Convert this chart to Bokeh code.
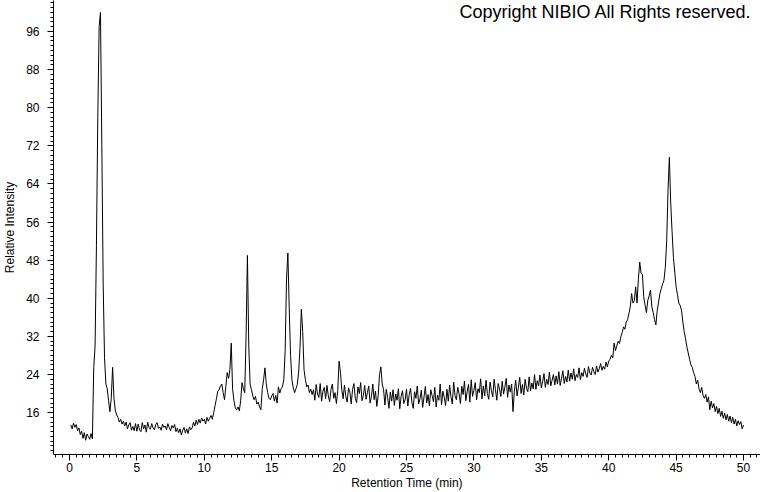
from bokeh.plotting import figure
from bokeh.models import FixedTicker, Range1d, Label
from bokeh.embed import file_html
from bokeh.resources import INLINE

# Retention time grid (min) and relative intensity
retention_time = [round(0.1 * i, 1) for i in range(1, 501)]
intensity = [
    # 0.1 - 1.0
    13.4, 12.6, 13.8, 12.9, 13.5, 12.2, 12.8, 11.4, 12.1, 10.6,
    # 1.1 - 2.0
    11.8, 10.2, 11.5, 11.0, 10.4, 11.6, 10.5, 25.5, 30.0, 51.0,
    # 2.1 - 3.0
    78.0, 97.0, 100.0, 72.0, 43.0, 27.5, 22.0, 21.0, 18.5, 16.2,
    # 3.1 - 4.0
    19.0, 25.5, 19.0, 16.5, 15.5, 15.0, 14.0, 14.6, 13.6, 14.2,
    # 4.1 - 5.0
    13.2, 14.0, 12.6, 13.4, 13.9, 12.3, 13.1, 12.2, 13.7, 12.1,
    # 5.1 - 6.0
    13.6, 12.4, 12.0, 13.9, 12.6, 13.4, 11.9, 14.0, 12.9, 12.5,
    # 6.1 - 7.0
    13.7, 12.8, 12.4, 13.5, 13.9, 12.7, 13.0, 12.3, 13.6, 12.9,
    # 7.1 - 8.0
    13.2, 12.4, 13.7, 12.9, 12.2, 13.3, 12.8, 13.5, 12.0, 12.7,
    # 8.1 - 9.0
    11.8, 12.6, 11.3, 12.3, 12.9, 11.7, 12.6, 11.6, 13.0, 12.4,
    # 9.1 - 10.0
    12.8, 14.0, 13.2, 14.4, 13.5, 14.6, 13.8, 14.9, 14.2, 14.6,
    # 10.1 - 11.0
    13.6, 15.0, 14.2, 14.8, 15.4, 14.6, 16.0, 17.5, 18.9, 20.5,
    # 11.1 - 12.0
    20.8, 21.6, 22.0, 20.2, 18.7, 21.5, 24.4, 23.2, 25.0, 30.6,
    # 12.1 - 13.0
    21.0, 18.5, 17.0, 16.6, 17.2, 16.4, 18.5, 22.3, 21.0, 20.2,
    # 13.1 - 14.0
    32.0, 49.0, 30.0, 22.0, 20.8, 19.5, 18.7, 19.4, 17.8, 18.2,
    # 14.1 - 15.0
    17.2, 16.6, 21.0, 22.9, 25.4, 22.0, 20.2, 19.0, 18.7, 19.5,
    # 15.1 - 16.0
    20.0, 18.4, 19.6, 18.0, 21.4, 20.1, 21.0, 21.4, 23.0, 29.0,
    # 16.1 - 17.0
    44.0, 49.5, 38.0, 28.0, 22.9, 21.2, 20.2, 21.0, 21.9, 24.5,
    # 17.1 - 18.0
    29.5, 37.7, 33.0, 25.0, 22.9, 21.4, 21.8, 20.2, 20.9, 19.8,
    # 18.1 - 19.0
    20.8, 18.6, 21.9, 19.9, 19.2, 22.1, 18.4, 20.5, 21.3, 18.9,
    # 19.1 - 20.0
    21.7, 19.5, 18.3, 20.9, 22.0, 19.0, 20.2, 17.9, 20.6, 26.8,
    # 20.1 - 21.0
    24.5, 20.8, 18.9, 21.8, 19.4, 18.2, 21.2, 20.3, 17.8, 20.9,
    # 21.1 - 22.0
    22.1, 19.0, 18.1, 21.4, 20.0, 22.3, 18.5, 19.6, 21.7, 18.8,
    # 22.1 - 23.0
    20.2, 21.6, 18.0, 19.4, 22.0, 18.7, 20.5, 17.3, 19.6, 24.0,
    # 23.1 - 24.0
    25.6, 22.0, 20.8, 17.6, 20.9, 19.2, 16.9, 20.3, 18.4, 20.8,
    # 24.1 - 25.0
    17.5, 19.9, 18.6, 21.0, 16.8, 19.4, 20.6, 17.9, 18.7, 20.9,
    # 25.1 - 26.0
    17.4, 19.8, 21.1, 18.2, 16.9, 20.4, 19.0, 21.6, 17.8, 18.9,
    # 26.1 - 27.0
    20.7, 17.1, 19.3, 21.5, 18.0, 19.8, 17.4, 20.8, 19.6, 18.3,
    # 27.1 - 28.0
    21.3, 17.2, 19.7, 18.6, 22.0, 17.6, 20.5, 19.2, 17.5, 20.9,
    # 28.1 - 29.0
    18.4, 21.8, 19.3, 17.8, 22.4, 19.6, 18.7, 21.3, 20.0, 17.9,
    # 29.1 - 30.0
    21.5, 19.8, 22.6, 18.5, 20.4, 21.9, 18.2, 22.9, 19.4, 20.7,
    # 30.1 - 31.0
    22.3, 18.7, 21.0, 20.2, 23.1, 18.9, 21.6, 19.5, 22.8, 20.0,
    # 31.1 - 32.0
    18.8, 22.4, 20.6, 19.3, 23.0, 20.8, 18.6, 22.1, 21.0, 19.4,
    # 32.1 - 33.0
    22.6, 19.9, 21.4, 23.2, 19.2, 21.8, 20.3, 22.0, 16.2, 20.5,
    # 33.1 - 34.0
    22.8, 19.5, 21.3, 23.4, 20.0, 21.9, 19.7, 23.0, 21.1, 20.4,
    # 34.1 - 35.0
    23.5, 20.6, 22.2, 21.0, 24.0, 20.9, 22.7, 21.6, 23.9, 21.2,
    # 35.1 - 36.0
    22.5, 24.2, 21.3, 23.0, 21.9, 24.5, 21.6, 22.8, 24.0, 21.8,
    # 36.1 - 37.0
    23.7, 22.0, 24.6, 21.7, 23.2, 24.8, 22.1, 23.6, 22.4, 24.9,
    # 37.1 - 38.0
    22.6, 24.3, 23.0, 25.2, 22.7, 24.0, 23.4, 25.4, 22.9, 24.4,
    # 38.1 - 39.0
    23.6, 25.3, 24.1, 23.4, 25.7, 24.3, 23.9, 25.5, 24.6, 24.0,
    # 39.1 - 40.0
    25.8, 24.5, 25.2, 26.3, 24.9, 25.7, 25.1, 26.6, 25.6, 26.8,
    # 40.1 - 41.0
    27.2, 28.0, 27.5, 30.6, 29.0, 30.0, 31.0, 30.5, 31.9, 32.8,
    # 41.1 - 42.0
    34.0, 33.5, 35.0, 35.5, 36.8, 38.2, 41.0, 39.0, 39.5, 42.4,
    # 42.1 - 43.0
    39.0, 44.0, 47.6, 45.3, 45.0, 40.3, 38.5, 37.0, 39.6, 40.5,
    # 43.1 - 44.0
    41.7, 38.2, 37.0, 35.5, 34.4, 37.5, 39.2, 41.0, 42.0, 43.0,
    # 44.1 - 45.0
    43.8, 46.5, 52.0, 62.6, 69.6, 60.0, 54.0, 48.6, 45.5, 42.4,
    # 45.1 - 46.0
    40.8, 39.0, 38.5, 37.5, 35.0, 33.0, 31.5, 29.8, 28.5, 27.2,
    # 46.1 - 47.0
    26.0, 25.5, 24.4, 23.6, 22.0, 22.8, 21.0, 20.2, 21.3, 19.6,
    # 47.1 - 48.0
    19.0, 19.8, 18.2, 19.3, 16.6, 18.4, 17.0, 17.9, 16.2, 17.3,
    # 48.1 - 49.0
    15.8, 16.9, 15.2, 16.3, 14.8, 15.9, 14.5, 15.6, 14.2, 15.3,
    # 49.1 - 50.0
    13.9, 15.0, 13.6, 14.6, 13.2, 14.3, 13.5, 14.1, 12.6, 13.4,
]

x_major_ticks = [0, 5, 10, 15, 20, 25, 30, 35, 40, 45, 50]
x_minor_ticks = [round(-1 + 0.5 * i, 1) for i in range(106)]
y_major_ticks = [16, 24, 32, 40, 48, 56, 64, 72, 80, 88, 96]
y_minor_ticks = list(range(8, 103))

copyright_text = "Copyright NIBIO All Rights reserved."

p = figure(
    width=760, height=492,
    output_backend="svg", toolbar_location=None,
    x_range=Range1d(-1.185, 51.26), y_range=Range1d(7.21, 102.5),
    min_border_left=52, min_border_right=0, min_border_top=0, min_border_bottom=37,
)
p.outline_line_color = None
p.xgrid.visible = False
p.ygrid.visible = False
p.background_fill_color = "white"
p.border_fill_color = "white"

p.line(retention_time, intensity, line_color="black", line_width=1)

p.xaxis.ticker = FixedTicker(ticks=x_major_ticks, minor_ticks=x_minor_ticks)
p.yaxis.ticker = FixedTicker(ticks=y_major_ticks, minor_ticks=y_minor_ticks)

for ax in (p.xaxis[0], p.yaxis[0]):
    ax.axis_line_color = "black"
    ax.major_tick_line_color = "black"
    ax.minor_tick_line_color = "black"
    ax.major_tick_in = 0
    ax.minor_tick_in = 0
    ax.major_tick_out = 6
    ax.minor_tick_out = 3
    ax.major_label_text_font = "Liberation Sans"
    ax.major_label_text_font_size = "12px"
    ax.major_label_text_color = "black"
    ax.axis_label_text_font = "Liberation Sans"
    ax.axis_label_text_font_size = "12px"
    ax.axis_label_text_font_style = "normal"
    ax.axis_label_text_color = "black"

p.xaxis.axis_label = "Retention Time (min)"
p.yaxis.axis_label = "Relative Intensity"
p.xaxis.major_label_standoff = 2
p.xaxis.axis_label_standoff = 1
p.yaxis.major_label_standoff = 8
p.yaxis.axis_label_standoff = 6

p.add_layout(Label(
    x=50.6, y=102.2, text=copyright_text,
    text_align="right", text_baseline="top",
    text_font="Liberation Sans", text_font_size="18px", text_color="black",
))

open("out.html", "w").write(file_html(p, INLINE))
